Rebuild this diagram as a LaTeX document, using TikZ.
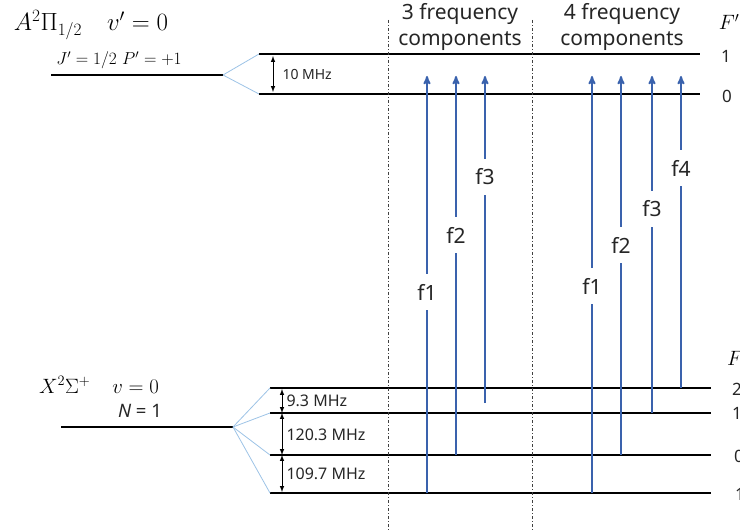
\documentclass[tikz,border=0pt]{standalone}
\usepackage{amsmath}
\usepackage{fontspec}
\newfontfamily\labelfont{Noto Sans}
\usepackage{xcolor}
\definecolor{laserblue}{HTML}{3A62AD}
\definecolor{fanblue}{HTML}{9DC3E6}
\definecolor{txtgray}{HTML}{262626}
\usetikzlibrary{arrows}

\begin{document}
\begin{tikzpicture}[x=1pt,y=-1pt,>=stealth',line width=1pt]
  \tikzstyle{lvl}=[line width=2.8pt,black]
  \tikzstyle{fan}=[color=fanblue,line width=0.8pt]
  \tikzstyle{laser}=[->,color=laserblue,line width=1.8pt]
  \tikzstyle{split}=[<->,>=latex,line width=1pt]
  \tikzstyle{sep}=[dashdotted,line width=0.7pt,color=black!75]
  \tikzstyle{flab}=[fill=white,inner xsep=1pt,inner ysep=0pt,minimum height=36pt,text=txtgray,font=\labelfont\fontsize{21}{21}\selectfont]
  \tikzstyle{mhz}=[anchor=west,inner sep=1pt,text=txtgray,font=\labelfont\fontsize{16}{16}\selectfont]
  \tikzstyle{qn}=[text=txtgray,font=\labelfont\fontsize{17}{17}\selectfont]

  \useasboundingbox (0,0) rectangle (740,532);

  % levels, A state
  \coordinate (A)   at (51,75);   \coordinate (Ae)  at (223,75);
  \coordinate (U1)  at (259,54);  \coordinate (U1e) at (700,54);
  \coordinate (U0)  at (259,94);  \coordinate (U0e) at (700,94);
  % levels, X state
  \coordinate (X)   at (61,427);  \coordinate (Xe)  at (233,427);
  \coordinate (L2)  at (270,388); \coordinate (L2e) at (711,388);
  \coordinate (L1)  at (270,413); \coordinate (L1e) at (711,413);
  \coordinate (L0)  at (270,455); \coordinate (L0e) at (711,455);
  \coordinate (Lm)  at (270,493); \coordinate (Lme) at (711,493);

  \draw[lvl] (A) -- (Ae);
  \draw[lvl] (U1) -- (U1e);
  \draw[lvl] (U0) -- (U0e);
  \draw[lvl] (X) -- (Xe);
  \draw[lvl] (L2) -- (L2e);
  \draw[lvl] (L1) -- (L1e);
  \draw[lvl] (L0) -- (L0e);
  \draw[lvl] (Lm) -- (Lme);

  \path (Ae) edge [fan] (U1)
             edge [fan] (U0)
        (Xe) edge [fan] (L2)
             edge [fan] (L1)
             edge [fan] (L0)
             edge [fan] (Lm);

  % separators
  \coordinate (s1t) at (388,20); \coordinate (s1b) at (388,532);
  \coordinate (s2t) at (532,20); \coordinate (s2b) at (532,532);
  \draw[sep] (s1t) -- (s1b);
  \draw[sep] (s2t) -- (s2b);

  % splittings
  \coordinate (a1) at (273,56);  \coordinate (a0) at (273,92);
  \coordinate (g2) at (282,389); \coordinate (g1) at (282,413);
  \coordinate (g0) at (282,455); \coordinate (gm) at (282,492);
  \draw[split] (a1) -- (a0);
  \draw[split] (g2) -- (g1);
  \draw[split] (g1) -- (g0);
  \draw[split] (g0) -- (gm);
  \node[mhz,font=\labelfont\fontsize{14}{14}\selectfont] (m10) at (281,74) {10 MHz};
  \node[mhz] (m93)  at (285,401) {9.3 MHz};
  \node[mhz] (m120) at (285,435) {120.3 MHz};
  \node[mhz] (m109) at (285,474) {109.7 MHz};

  % laser components
  \foreach \nm/\x/\y in {la/427/493, lb/456/455, lc/485/403,
                         ra/592/493, rb/621/455, rc/652/413, rd/681/388}{
    \coordinate (\nm s) at (\x,\y);
    \coordinate (\nm t) at (\x,76);
    \draw[laser] (\nm s) -- (\nm t);
  }
  \node[flab] (fla) at (427,292) {f1};
  \node[flab] (flb) at (456,235) {f2};
  \node[flab] (flc) at (485,177) {f3};
  \node[flab] (fra) at (592,286) {f1};
  \node[flab] (frb) at (621,245) {f2};
  \node[flab] (frc) at (652,209) {f3};
  \node[flab] (frd) at (681,168) {f4};

  % texts
  \node[align=center,text=txtgray,font=\labelfont\fontsize{21}{26}\selectfont] (grp3) at (460,27) {3 frequency\\components};
  \node[align=center,text=txtgray,font=\labelfont\fontsize{21}{26}\selectfont] (grp4) at (622,27) {4 frequency\\components};

  \node[font=\fontsize{25}{25}\selectfont] (stA) at (91,25) {$A^2\Pi_{1/2}\quad v'=0$};
  \node[font=\fontsize{17.5}{17.5}\selectfont] (qnA) at (119,60) {$J'=1/2\ P'=+1$};
  \node[font=\fontsize{22}{22}\selectfont] (stX) at (99,385) {$X^2\Sigma^+\quad v=0$};
  \node[qn,font=\labelfont\fontsize{18.5}{18.5}\selectfont] (qnX) at (140,411) {{\itshape N} = 1};

  \node[font=\fontsize{20}{20}\selectfont] (Fu) at (729,22) {$F'$};
  \node[qn] (Fu1) at (726,56) {1};
  \node[qn] (Fu0) at (727,96) {0};
  \node[font=\fontsize{20}{20}\selectfont] (Fl) at (735,358) {$F$};
  \node[qn] (Fl2) at (737,389) {2};
  \node[qn] (Fl1) at (737,413) {1};
  \node[qn] (Fl0) at (739,456) {0};
  \node[qn] (Flm) at (740,494) {1};
\end{tikzpicture}
\end{document}
